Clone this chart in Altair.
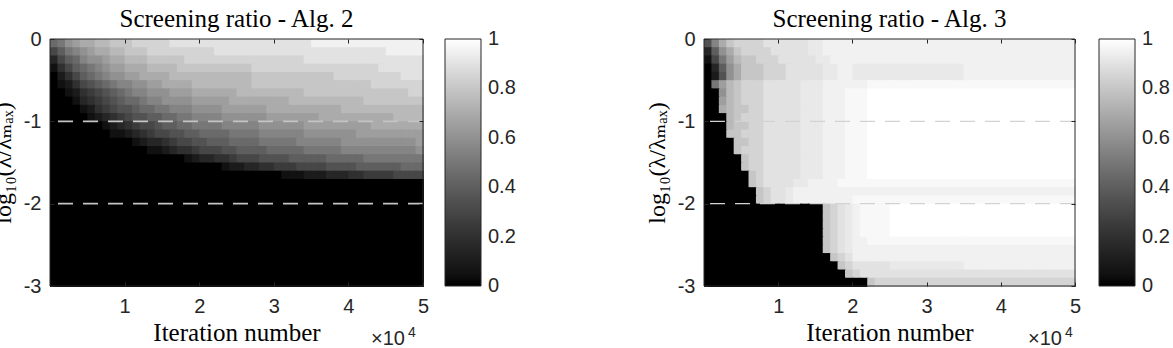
import altair as alt
import pandas as pd

# grey level alphabet: index / 20 = screening ratio (0 .. 1);
# a lower-case letter sits half a step (0.025) above its upper-case level
LEVELS = "0123456789ABCDEFGHIJK"


def level(c):
    base = LEVELS.index(c.upper()) / 20
    return base + (0.025 if c.islower() else 0.0)


# Alg. 2 screening ratio, 30 rows (log10 lambda/lambda_max from 0 down to -3, step 0.1)
# x 50 columns (iterations 0 .. 5e4, step 1000)
alg2_rows = [
    "9ACDEEFFGG" "GHHHHHIIII" "IIIIIIIIII" "IIIIIJJJJJ" "JJJJJJJJJJ",
    "68ABCDEEFF" "GGGHHHHHHH" "HHIIIIIIII" "IIIIIIIIII" "IIIIIJJJJJ",
    "3689BCCDEE" "FFFGGGGGHH" "HHHHHHHHHH" "HHHHIIIIII" "IIIIIIIIII",
    "14689ABCDD" "EEEFFFFGGG" "GGGGGGGHHH" "HHHHHHHHHH" "HHHHIIIIII",
    "024689ABCC" "DDEEEEFFFF" "FFFFFFFGGG" "GGGGGGGGHH" "HHHHHHHIII",
    "01246789AB" "BCCDDEEEEF" "FFFFFFFGGG" "GGGGGGGGGG" "GGGHHHHHHH",
    "0012456789" "ABBCCCDDDE" "EEEEEFFFFF" "FFFFGGGGGG" "GGGGGGGGHH",
    "0001345678" "99ABBCCCCD" "DDDDEEEEEE" "EEFFFFFFFF" "FFGGGGGGGG",
    "0000124567" "7899AABBBC" "CCCDDDDDDE" "EEEEEEEEEF" "FFFFFFFFFF",
    "0000012345" "6778899AAB" "BBBCCCCCCD" "DDDDDDEEEE" "EEEEEEFFFF",
    "0000000123" "456678899A" "AAABBBBBCC" "CCCCDDDDDD" "DDDEEEEEEE",
    "0000000011" "2345667788" "9999AAAABB" "BBBBCCCCCC" "CDDDDDDDDD",
    "0000000000" "0123345667" "78889999AA" "AAABBBBBBC" "CCCCCCCCCD",
    "0000000000" "0001123445" "6667788889" "9999AAAAAB" "BBBBBBBBBC",
    "0000000000" "0000000012" "3344566677" "7788888999" "99AAAAAAAA",
    "0000000000" "0000000000" "0001223344" "5556666777" "7888888999",
    "0000000000" "0000000000" "0000000000" "0111222333" "4455556666",
] + ["0" * 50] * 13

# Alg. 3 screening ratio, same grid (cells cut by the sharp edge carry the light value)
alg3_rows = [
    "7BEGHHHHII" + "IIIIiiJJJJ" + "J" * 30,
    "38CEGHHHHI" + "IIIIiiJJJJ" + "J" * 30,
    "16ADFGGHHH" + "IIIIIiiJJJ" + "J" * 30,
    "038CEGGGHH" + "HIIIIIiiJJ" + "i" * 15 + "J" * 15,
    "027CEGGGHH" + "HIIIIIiiJJ" + "i" * 15 + "J" * 15,
    "0ADFGHHHII" + "IIIiiiJJJJ" + "JJjjjjjjjj" + "j" * 20,
    "00CFGHHHII" + "IIIiiiJJJj" + "jjKKKKKKKK" + "K" * 20,
    "00DFGHHHII" + "IIIiiiJJJj" + "jjKKKKKKKK" + "K" * 20,
    "00EFGGHHII" + "IIIiiiJJJj" + "jjKKKKKKKK" + "K" * 20,
    "000FGHHHII" + "IIIiiiJJJj" + "jjKKKKKKKK" + "K" * 20,
    "000FGGHHII" + "IIIiiiJJJj" + "jjKKKKKKKK" + "K" * 20,
    "000GGHHHII" + "IIIiiiJJJj" + "jjKKKKKKKK" + "K" * 20,
    "0000GGHHII" + "IIIiiiJJJj" + "jjKKKKKKKK" + "K" * 20,
    "0000GHHHII" + "IIIiiiJJJj" + "jjKKKKKKKK" + "K" * 20,
    "00000GHHII" + "IIIiiiJJJj" + "jjKKKKKKKK" + "K" * 20,
    "00000GHHII" + "IIIiiiJJJj" + "jjKKKKKKKK" + "K" * 20,
    "000000GHII" + "IIIiiiJJJj" + "jjKKKKKKKK" + "K" * 20,
    "000000GHII" + "IIiiJJJJjj" + "j" * 30,
    "0000000GHI" + "IiJJJJJJJJ" + "J" * 30,
    "0000000GHI" + "IiJJJJJJJJ" + "j" * 30,
    "0" * 16 + "GHIi" + "Jj" + "jjj" + "K" * 25,
    "0" * 16 + "GHIi" + "Jj" + "jjj" + "K" * 25,
    "0" * 16 + "GHIi" + "Jj" + "jjj" + "K" * 25,
    "0" * 16 + "GHIi" + "Jj" + "jjj" + "K" * 25,
    "0" * 16 + "GHIi" + "JJ" + "j" * 28,
    "0" * 16 + "GHIi" + "J" * 30,
    "0" * 17 + "GHI" + "J" * 30,
    "0" * 18 + "GH" + "I" * 5 + "i" * 10 + "J" * 15,
    "0" * 19 + "GH" + "I" * 29,
    "0" * 22 + "G" + "H" * 27,
]

# sharp edge of the Alg. 3 zero-screening (black) region: log10 level, iteration (1e4)
alg3_edge_y = [-0.25, -0.35, -0.5, -0.7, -1.0, -1.2, -1.4, -1.6, -1.8, -2.0,
               -2.0, -2.45, -2.5, -2.6, -2.7, -2.75, -2.8, -2.85, -2.87, -2.9,
               -2.94, -2.96, -2.96, -3.0]
alg3_edge_x = [0.0, 0.08, 0.17, 0.24, 0.34, 0.43, 0.53, 0.63, 0.72, 0.81,
               1.68, 1.68, 1.69, 1.74, 1.82, 1.88, 1.95, 2.05, 2.22, 2.3,
               2.36, 2.36, 2.24, 2.24]

for rows in (alg2_rows, alg3_rows):
    assert len(rows) == 30 and all(len(r) == 50 for r in rows), [len(r) for r in rows]

x_step = 1000
y_step = 0.1
guide_levels = [-1, -2]
x_ticks = [10000, 20000, 30000, 40000, 50000]
y_ticks = [0, -1, -2, -3]
cbar_ticks = [0, 0.2, 0.4, 0.6, 0.8, 1]
titles = ["Screening ratio - Alg. 2", "Screening ratio - Alg. 3"]
x_title = "Iteration number"
y_title = "log\u2081\u2080(\u03bb/\u03bb\u2098\u2090\u2093)"

H = 247
SERIF = "Liberation Serif, DejaVu Serif, serif"
SANS = "Liberation Sans, Arial, sans-serif"
AX = "#262626"


def cells(rows):
    recs = []
    for i, row in enumerate(rows):
        for j, c in enumerate(row):
            recs.append(dict(x=j * x_step, x2=(j + 1) * x_step,
                             y=-y_step * i, y2=-y_step * (i + 1),
                             v=level(c)))
    return pd.DataFrame(recs)


# colour-bar label positions: keep the end labels centred on the bar ends
cbar_pos = [min(max(t, 0.0005), 0.9995) for t in cbar_ticks]


def panel(rows, title, dash_color, dash_width, w, xdx, supdx, edge=None):
    xs = alt.Scale(domain=[0, 50000], nice=False, zero=False)
    ys = alt.Scale(domain=[-3, 0], nice=False, zero=False)
    cs = alt.Scale(domain=[0, 1], range=["#000000", "#ffffff"])
    common = dict(domain=False, grid=False, tickSize=4, tickColor=AX,
                  tickWidth=1, offset=-4, zindex=2)
    heat = alt.Chart(cells(rows)).mark_rect(x2Offset=1, y2Offset=1).encode(
        x=alt.X("x:Q", scale=xs, axis=alt.Axis(
            orient="bottom", values=x_ticks, labelExpr="'' + datum.value / 10000",
            labelFont=SANS, labelFontSize=20, labelColor=AX, labelPadding=10,
            labelFlush=False, title=x_title, titleFont=SERIF, titleFontSize=25,
            titleFontWeight="normal", titleColor="black", titleY=58,
            titleBaseline="alphabetic", **common)),
        x2="x2:Q",
        y=alt.Y("y:Q", scale=ys, axis=alt.Axis(
            orient="left", values=y_ticks, labelExpr="'' + datum.value",
            labelFont=SANS, labelFontSize=20, labelColor=AX, labelPadding=9,
            title=y_title, titleFont=SERIF, titleFontSize=24,
            titleFontWeight="normal", titleColor="black", titleAngle=270,
            titleX=-51, titleY=H / 2, titleAlign="center", titleBaseline="middle",
            **common)),
        y2="y2:Q",
        color=alt.Color("v:Q", scale=cs, legend=alt.Legend(
            orient="none", legendX=395, legendY=0, direction="vertical",
            type="gradient", gradientLength=H, gradientThickness=36,
            values=cbar_pos, title=None, labelFont=SANS, labelFontSize=20,
            labelColor=AX, labelOffset=7,
            labelExpr="'' + round(datum.value * 10) / 10",
            gradientStrokeColor=AX, gradientStrokeWidth=1)),
    )
    layers = [heat]
    if edge is not None:
        ey, ex = edge
        edf = pd.DataFrame({"lvl": ey, "it": [v * 10000 for v in ex],
                            "i": list(range(len(ey)))})
        layers.append(
            alt.Chart(edf).mark_area(orient="horizontal", color="black",
                                     interpolate="linear").encode(
                y=alt.Y("lvl:Q", scale=ys, axis=None),
                x=alt.X("it:Q", scale=xs, axis=None),
                x2=alt.datum(0),
                order="i:Q",
            )
        )
    guides = alt.Chart(pd.DataFrame({"level": guide_levels})).mark_rule(
        color=dash_color, strokeWidth=dash_width, strokeDash=[15, 10]
    ).encode(
        y=alt.Y("level:Q", scale=ys, axis=alt.Axis(
            orient="right", values=y_ticks, labels=False, title=None, **common)),
    )
    frame = alt.Chart(pd.DataFrame({"a": [0]})).mark_rect(
        filled=False, stroke=AX, strokeWidth=1, fill=None
    ).encode(
        x=alt.X(datum=0, scale=xs, axis=alt.Axis(
            orient="top", values=x_ticks, labels=False, title=None, **common)),
        x2=alt.datum(50000),
        y=alt.Y(datum=-3, scale=ys, axis=None),
        y2=alt.datum(0),
    )
    one = pd.DataFrame({"a": [0]})
    head = alt.Chart(one).mark_text(
        text=title, font=SERIF, fontSize=25, color="black", align="center",
        baseline="alphabetic", dy=-12,
    ).encode(x=alt.X(datum=25000, scale=xs, axis=None),
             y=alt.Y(datum=0, scale=ys, axis=None))
    times = alt.Chart(one).mark_text(
        text="\u00d710", font=SANS, fontSize=20, color=AX, align="right",
        baseline="alphabetic", dx=xdx, dy=59,
    ).encode(x=alt.X(datum=50000, scale=xs, axis=None),
             y=alt.Y(datum=-3, scale=ys, axis=None))
    sup = alt.Chart(one).mark_text(
        text="4", font=SANS, fontSize=14, color=AX, align="left",
        baseline="alphabetic", dx=supdx, dy=51,
    ).encode(x=alt.X(datum=50000, scale=xs, axis=None),
             y=alt.Y(datum=-3, scale=ys, axis=None))
    layers += [guides, frame, head, times, sup]
    return alt.layer(*layers).resolve_axis(
        x="independent", y="independent"
    ).properties(width=w, height=H)


left = panel(alg2_rows, titles[0], "#c4c4c4", 1.6, 373, -18, -15)
right = panel(alg3_rows, titles[1], "#d2d2d2", 1.2, 371, -13, -10,
              edge=(alg3_edge_y, alg3_edge_x))

chart = alt.hconcat(left, right, spacing=281, bounds="flush").resolve_scale(
    color="independent"
).properties(
    autosize=alt.AutoSizeParams(type="none"),
    padding={"left": 50, "top": 39, "right": 1123, "bottom": 309},
    background="white",
).configure_view(stroke=None)

chart.save("out.html", embed_options={"renderer": "svg", "actions": False})
